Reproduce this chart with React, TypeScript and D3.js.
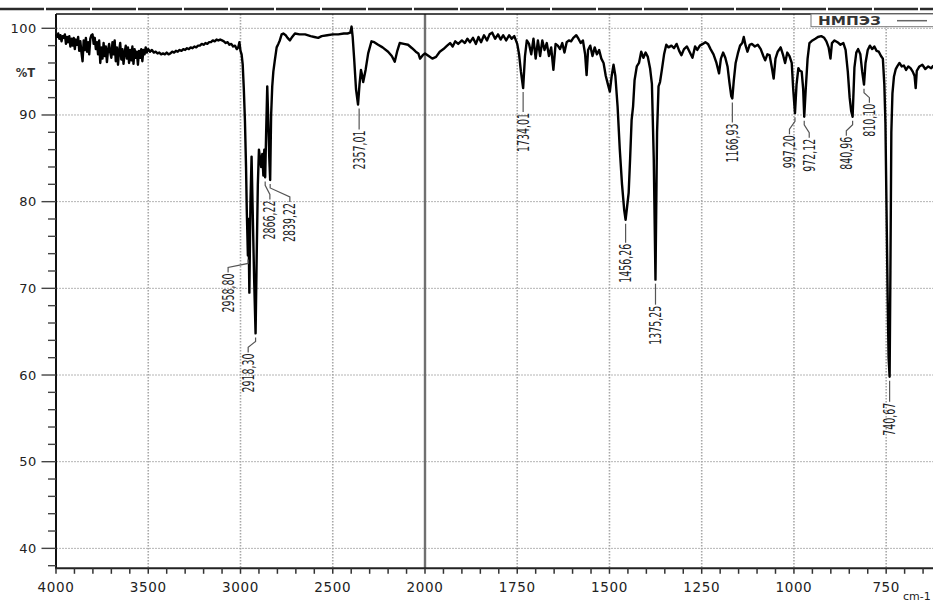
import React, { useEffect, useRef } from "react";
import * as d3 from "d3";

// IR spectrum, wavenumber (cm-1) vs %T
const spectrum: [number, number][] = [
  [4000, 99.3], [3994, 99.0], [3988, 99.4], [3982, 98.8], [3976, 99.2], [3970, 98.5], [3964, 99.1], [3958, 98.9],
  [3952, 99.3], [3946, 98.2], [3940, 99.0], [3934, 98.4], [3928, 99.1], [3922, 97.9], [3916, 98.8], [3910, 98.0],
  [3904, 98.9], [3898, 97.6], [3892, 98.7], [3886, 98.1], [3880, 99.0], [3874, 97.4], [3868, 98.5], [3862, 97.2],
  [3856, 96.2], [3850, 98.6], [3844, 97.5], [3838, 98.9], [3832, 97.3], [3826, 98.4], [3820, 97.0], [3814, 98.8],
  [3808, 99.2], [3802, 99.3], [3796, 98.2], [3790, 98.9], [3784, 97.6], [3778, 98.4], [3772, 97.0], [3766, 98.6],
  [3760, 96.0], [3754, 97.8], [3748, 96.5], [3742, 98.3], [3736, 96.8], [3730, 97.9], [3724, 96.1], [3718, 97.5],
  [3712, 98.2], [3706, 97.2], [3700, 96.6], [3694, 98.4], [3688, 97.0], [3682, 98.6], [3676, 96.2], [3670, 97.8],
  [3664, 95.8], [3658, 97.4], [3652, 98.3], [3646, 96.4], [3640, 97.6], [3634, 95.9], [3628, 97.2], [3622, 98.0],
  [3616, 96.5], [3610, 97.8], [3604, 96.0], [3598, 97.5], [3592, 96.3], [3586, 97.9], [3580, 95.9], [3574, 97.6],
  [3568, 96.6], [3562, 97.3], [3556, 95.8], [3550, 97.4], [3544, 96.6], [3538, 97.6], [3532, 96.2], [3526, 97.5],
  [3520, 97.0], [3514, 97.8], [3508, 97.2], [3500, 97.6], [3490, 97.3], [3480, 97.5], [3470, 97.2], [3460, 97.3],
  [3450, 97.1], [3440, 97.2], [3430, 97.0], [3420, 97.1], [3410, 97.0], [3400, 97.2], [3390, 97.0], [3380, 97.1],
  [3370, 97.3], [3360, 97.2], [3350, 97.4], [3340, 97.3], [3330, 97.5], [3320, 97.4], [3310, 97.6], [3300, 97.5],
  [3290, 97.7], [3280, 97.6], [3270, 97.8], [3260, 97.7], [3250, 97.9], [3240, 97.8], [3230, 98.0], [3220, 98.0],
  [3210, 98.2], [3200, 98.1], [3190, 98.3], [3180, 98.2], [3170, 98.4], [3160, 98.4], [3150, 98.6], [3140, 98.5],
  [3130, 98.7], [3120, 98.6], [3110, 98.7], [3100, 98.6], [3090, 98.5], [3080, 98.3], [3070, 98.4], [3060, 98.1],
  [3050, 98.2], [3040, 97.9], [3030, 98.0], [3020, 97.6], [3012, 97.8], [3006, 98.4], [3000, 97.4], [2994, 97.0],
  [2988, 95.8], [2982, 93.0], [2976, 89.4], [2970, 84.0], [2966, 79.0], [2960, 73.8], [2957, 78.0], [2952, 69.5],
  [2946, 80.0], [2940, 85.2], [2934, 79.0], [2926, 71.0], [2918.3, 64.8], [2912, 74.0], [2906, 82.0], [2900, 86.0],
  [2894, 85.0], [2888, 84.0], [2882, 85.5], [2876, 83.0], [2871, 86.0], [2866.2, 82.8], [2861, 88.0], [2855, 93.3],
  [2849, 89.0], [2844, 85.0], [2839.2, 82.5], [2834, 90.0], [2828, 93.3], [2822, 95.0], [2814, 96.3], [2804, 97.8],
  [2795, 98.2], [2787, 98.6], [2777, 99.3], [2768, 99.4], [2755, 99.2], [2745, 98.9], [2732, 98.6], [2720, 99.0],
  [2705, 99.4], [2680, 99.3], [2650, 99.3], [2620, 99.1], [2600, 99.0], [2579, 98.9], [2560, 99.1], [2530, 99.2],
  [2500, 99.3], [2470, 99.3], [2440, 99.4], [2420, 99.4], [2405, 99.5], [2398, 100.2], [2392, 99.0], [2384, 96.5],
  [2374, 93.0], [2363, 91.2], [2355, 93.5], [2347, 95.2], [2341, 94.6], [2335, 93.8], [2322, 95.2], [2308, 97.1],
  [2290, 98.5], [2275, 98.4], [2254, 98.1], [2230, 97.8], [2200, 97.3], [2180, 96.8], [2164, 96.15], [2150, 97.4],
  [2137, 98.3], [2115, 98.2], [2092, 98.1], [2070, 97.7], [2050, 97.3], [2036, 97.1], [2027, 96.5], [2012, 96.9],
  [2000, 97.1], [1990, 96.8], [1980, 96.5], [1970, 96.7], [1960, 97.3], [1950, 97.6], [1940, 98.0], [1932, 98.3],
  [1925, 97.9], [1918, 98.5], [1910, 98.2], [1900, 98.6], [1892, 98.3], [1885, 98.8], [1878, 98.4], [1870, 98.9],
  [1862, 98.2], [1855, 99.0], [1848, 98.4], [1840, 99.2], [1832, 98.6], [1825, 99.3], [1818, 99.5], [1810, 98.8],
  [1802, 99.3], [1795, 98.7], [1788, 99.2], [1780, 98.6], [1772, 99.2], [1765, 98.8], [1758, 99.1], [1750, 98.2],
  [1745, 97.0], [1740, 95.0], [1734, 93.1], [1729, 96.8], [1724, 98.6], [1718, 98.2], [1712, 97.0], [1706, 98.8],
  [1700, 96.5], [1694, 98.6], [1688, 96.8], [1682, 98.6], [1676, 97.5], [1670, 98.3], [1664, 96.8], [1658, 97.8],
  [1652, 95.2], [1646, 98.2], [1640, 98.0], [1634, 97.6], [1628, 98.3], [1622, 97.2], [1616, 98.4], [1610, 98.6],
  [1604, 98.5], [1598, 98.9], [1590, 99.2], [1584, 98.8], [1578, 98.3], [1572, 98.6], [1566, 97.0], [1562, 94.6],
  [1558, 97.5], [1552, 98.0], [1546, 96.8], [1540, 97.8], [1534, 97.0], [1528, 97.5], [1522, 96.5], [1516, 96.0],
  [1510, 94.5], [1504, 93.5], [1499, 92.7], [1494, 94.5], [1489, 95.8], [1484, 94.5], [1478, 91.0], [1472, 86.0],
  [1466, 82.0], [1460, 79.0], [1456.3, 77.9], [1452, 79.5], [1448, 81.0], [1444, 85.0], [1440, 89.4], [1436, 91.0],
  [1432, 94.0], [1426, 95.6], [1420, 96.0], [1414, 97.3], [1408, 96.6], [1402, 97.2], [1396, 96.7], [1390, 95.4],
  [1385, 93.6], [1380, 85.0], [1375.3, 71.0], [1371, 88.0], [1367, 93.3], [1363, 93.8], [1358, 95.2], [1352, 97.0],
  [1346, 98.1], [1340, 97.8], [1332, 98.0], [1325, 97.7], [1318, 98.2], [1311, 97.4], [1305, 96.9], [1298, 97.6],
  [1290, 97.9], [1282, 97.2], [1275, 96.6], [1268, 97.9], [1262, 97.5], [1255, 98.0], [1247, 98.2], [1240, 98.4],
  [1233, 98.2], [1226, 97.6], [1218, 97.0], [1210, 96.0], [1203, 94.8], [1198, 96.5], [1192, 97.2], [1186, 96.6],
  [1180, 95.6], [1175, 93.8], [1170, 92.2], [1167, 91.9], [1163, 94.0], [1158, 96.0], [1152, 97.1], [1146, 98.0],
  [1140, 98.3], [1136, 99.0], [1131, 98.0], [1126, 97.3], [1120, 98.1], [1114, 98.2], [1106, 97.9], [1098, 98.1],
  [1090, 97.6], [1083, 96.8], [1078, 96.3], [1072, 97.0], [1066, 96.9], [1060, 95.5], [1055, 94.2], [1050, 96.5],
  [1044, 97.3], [1036, 97.8], [1030, 97.0], [1024, 96.0], [1018, 97.2], [1012, 96.8], [1006, 96.0], [1002, 93.0],
  [997.2, 90.2], [993, 93.5], [988, 95.4], [984, 95.1], [979, 95.0], [975, 93.0], [972.1, 89.8], [968, 93.0],
  [963, 96.5], [958, 98.3], [950, 98.6], [942, 98.8], [935, 99.0], [926, 99.1], [918, 98.9], [912, 98.5],
  [906, 97.8], [901, 96.5], [897, 98.3], [890, 98.6], [882, 98.4], [874, 98.1], [866, 98.3], [860, 97.5],
  [854, 95.0], [849, 92.0], [845, 90.5], [841, 89.8], [836, 95.5], [831, 97.2], [826, 97.6], [820, 97.0],
  [815, 95.0], [810.1, 93.5], [806, 96.0], [800, 97.5], [794, 98.0], [788, 97.6], [782, 97.9], [776, 97.4],
  [770, 97.3], [764, 96.8], [759, 96.5], [755, 93.5], [752, 89.0], [749, 79.0], [746, 69.0], [743.5, 62.0],
  [740.7, 59.8], [738.5, 72.0], [736, 88.0], [733, 92.5], [729, 94.4], [724, 95.3], [720, 95.6], [714, 96.0],
  [708, 95.6], [702, 95.7], [696, 95.2], [690, 95.6], [684, 95.4], [678, 95.0], [673, 94.5], [670, 93.1],
  [667, 95.1], [660, 95.6], [652, 95.8], [644, 95.3], [636, 95.6], [628, 95.4], [622, 95.7],
];

const peakWavenumbers = [2958.8, 2918.3, 2866.22, 2839.22, 2357.01, 1734.01, 1456.26, 1375.25, 1166.93, 997.2, 972.12, 840.96, 810.1, 740.67];
const peakValues = [73.8, 64.8, 82.8, 82.5, 91.2, 93.1, 77.9, 71.0, 91.9, 90.2, 89.8, 89.8, 93.5, 59.8];
const peakLabels = ["2958,80", "2918,30", "2866,22", "2839,22", "2357,01", "1734,01", "1456,26", "1375,25", "1166,93", "997,20", "972,12", "840,96", "810,10", "740,67"];

// label layout: horizontal shift of the text from the peak, and drop of the text end below the peak
const labelShift = [-20, -7.4, 4.7, 19.7, 0, 0, 0, 0, 0, -5.5, 5, -6.3, 5.4, 0];
const labelDrop = [18, 20, 23, 23, 26, 25, 24, 26, 25, 22, 22, 20, 19, 26];

const xMajor = [4000, 3500, 3000, 2500, 2000, 1750, 1500, 1250, 1000, 750];
const yMajor = [100, 90, 80, 70, 60, 50, 40];
const legendName = "НМПЭЗ";

const W = 933;
const H = 602;
const plot = { left: 56, right: 934, top: 14, bottom: 568.3 };

export default function App() {
  const ref = useRef<SVGSVGElement>(null);

  useEffect(() => {
    const svg = d3.select(ref.current);
    svg.selectAll("*").remove();

    const x = d3.scaleLinear().domain([4000, 2000, 622]).range([plot.left, 425, 933.4]);
    const y = d3.scaleLinear().domain([37.7, 101.65]).range([plot.bottom, plot.top]);

    // dashed ruler at the very top
    svg.append("line")
      .attr("x1", 0).attr("x2", W).attr("y1", 9).attr("y2", 9)
      .attr("stroke", "#2a2a2a").attr("stroke-width", 2.5)
      .attr("stroke-dasharray", "44 2");

    // grid
    const grid = svg.append("g");
    grid.selectAll(".hg")
      .data(yMajor)
      .join("line")
      .attr("x1", plot.left).attr("x2", W)
      .attr("y1", (d) => y(d)).attr("y2", (d) => y(d))
      .attr("stroke", "#b4b4b4").attr("stroke-width", 1)
      .attr("stroke-dasharray", "2 1");
    grid.selectAll(".vg")
      .data(xMajor.filter((d) => d !== 4000 && d !== 2000))
      .join("line")
      .attr("x1", (d) => x(d)).attr("x2", (d) => x(d))
      .attr("y1", plot.top).attr("y2", plot.bottom)
      .attr("stroke", "#a8a8a8").attr("stroke-width", 1.6)
      .attr("stroke-dasharray", "1.5 1.5");

    // scale break at 2000
    svg.append("line")
      .attr("x1", x(2000)).attr("x2", x(2000))
      .attr("y1", plot.top).attr("y2", plot.bottom)
      .attr("stroke", "#707070").attr("stroke-width", 2.4);

    // frame
    svg.append("line")
      .attr("x1", plot.left).attr("x2", W).attr("y1", plot.top).attr("y2", plot.top)
      .attr("stroke", "#111").attr("stroke-width", 1.6);
    svg.append("line")
      .attr("x1", plot.left).attr("x2", plot.left).attr("y1", plot.top).attr("y2", plot.bottom)
      .attr("stroke", "#111").attr("stroke-width", 2);
    svg.append("line")
      .attr("x1", plot.left - 1).attr("x2", W).attr("y1", plot.bottom).attr("y2", plot.bottom)
      .attr("stroke", "#222").attr("stroke-width", 2);

    // x ticks
    const xMinor = [...d3.range(4000, 2000, -100), ...d3.range(2000, 621, -50)];
    svg.append("g").selectAll("line")
      .data(xMinor)
      .join("line")
      .attr("x1", (d) => x(d)).attr("x2", (d) => x(d))
      .attr("y1", plot.bottom).attr("y2", plot.bottom + 5.5)
      .attr("stroke", "#333").attr("stroke-width", 1.5);
    svg.append("g").selectAll("text")
      .data(xMajor)
      .join("text")
      .attr("x", (d) => x(d)).attr("y", 591.5)
      .attr("text-anchor", "middle")
      .attr("font-family", "DejaVu Sans, sans-serif")
      .attr("font-size", 13.5)
      .attr("letter-spacing", 0.6)
      .attr("fill", "#222")
      .text((d) => d);

    // y ticks
    const yMinor = d3.range(38, 101, 2);
    svg.append("g").selectAll("line")
      .data(yMinor)
      .join("line")
      .attr("x1", (d) => (d % 10 === 0 ? 41.5 : 48)).attr("x2", plot.left)
      .attr("y1", (d) => y(d)).attr("y2", (d) => y(d))
      .attr("stroke", "#444").attr("stroke-width", 1.4);
    svg.append("g").selectAll("text")
      .data(yMajor)
      .join("text")
      .attr("x", 37).attr("y", (d) => y(d) + 4.5)
      .attr("text-anchor", "end")
      .attr("font-family", "DejaVu Sans, sans-serif")
      .attr("font-size", 13)
      .attr("letter-spacing", 0.6)
      .attr("fill", "#222")
      .text((d) => d);
    svg.append("text")
      .attr("x", 35).attr("y", 76.5)
      .attr("text-anchor", "end")
      .attr("font-family", "DejaVu Sans, sans-serif")
      .attr("font-size", 11.5)
      .attr("font-weight", "bold")
      .attr("fill", "#333")
      .text("%T");
    svg.append("text")
      .attr("x", 903).attr("y", 600)
      .attr("font-family", "DejaVu Sans, sans-serif")
      .attr("font-size", 11)
      .attr("fill", "#222")
      .text("cm-1");

    // spectrum
    const line = d3.line<[number, number]>()
      .x((d) => x(d[0]))
      .y((d) => y(d[1]));
    svg.append("path")
      .datum(spectrum)
      .attr("d", line)
      .attr("fill", "none")
      .attr("stroke", "#000")
      .attr("stroke-width", 2.4)
      .attr("stroke-linejoin", "round");

    // peak labels with leaders
    const labels = svg.append("g");
    peakWavenumbers.forEach((w, i) => {
      const px = x(w);
      const py = y(peakValues[i]);
      const dx = labelShift[i];
      const drop = labelDrop[i];
      const tx = px + dx;
      const pts: [number, number][] = dx === 0
        ? [[px, py + 4], [px, py + drop - 1]]
        : [[px, py + 4], [px, py + 8], [tx, py + drop - 6], [tx, py + drop - 1]];
      labels.append("path")
        .attr("d", d3.line()(pts))
        .attr("fill", "none")
        .attr("stroke", "#555")
        .attr("stroke-width", 1.2);
      const txt = peakLabels[i];
      const digits = txt.replace(",", "").length;
      labels.append("text")
        .attr("transform", `translate(${tx},${py + drop}) rotate(-90)`)
        .attr("text-anchor", "end")
        .attr("dy", "0.36em")
        .attr("font-family", "Liberation Sans Narrow, DejaVu Sans Condensed, Arial Narrow, sans-serif")
        .attr("font-size", 15.5)
        .attr("textLength", digits * 5.95 + 3.3)
        .attr("lengthAdjust", "spacingAndGlyphs")
        .attr("fill", "#1c1c24")
        .text(txt);
    });

    // legend
    svg.append("rect")
      .attr("x", 811).attr("y", plot.top).attr("width", 140).attr("height", 12.7)
      .attr("fill", "#fff").attr("stroke", "#777").attr("stroke-width", 1);
    svg.append("text")
      .attr("x", 818).attr("y", 25)
      .attr("font-family", "DejaVu Sans, sans-serif")
      .attr("font-size", 11.5)
      .attr("font-weight", "bold")
      .attr("textLength", 63)
      .attr("lengthAdjust", "spacingAndGlyphs")
      .attr("fill", "#333")
      .text(legendName);
    svg.append("line")
      .attr("x1", 897).attr("x2", 927).attr("y1", 20.7).attr("y2", 20.7)
      .attr("stroke", "#666").attr("stroke-width", 1.5);
  }, []);

  return (
    <svg
      ref={ref}
      width={W}
      height={H}
      style={{ position: "absolute", left: 0, top: 0, background: "#fff", overflow: "hidden" }}
    />
  );
}
